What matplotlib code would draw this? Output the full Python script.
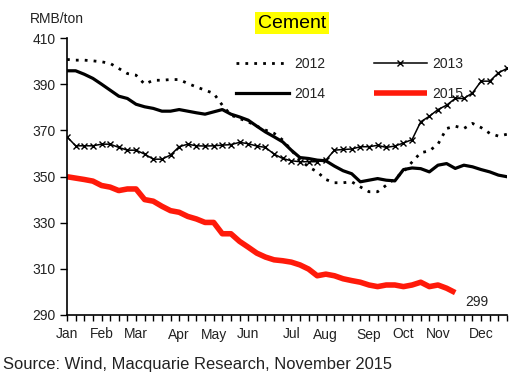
import matplotlib
matplotlib.use("Agg")
import matplotlib.pyplot as plt
import numpy as np

plt.rcParams['font.family'] = ['Liberation Sans', 'DejaVu Sans']

weeks = list(range(52))
month_labels = ['Jan', 'Feb', 'Mar', 'Apr', 'May', 'Jun', 'Jul', 'Aug', 'Sep', 'Oct', 'Nov', 'Dec']
month_weeks = [0, 4, 8, 13, 17, 21, 26, 30, 35, 39, 43, 48]

y2012 = [400.7, 400.4, 400.4, 400.1, 399.7, 399.0, 396.8, 394.6, 393.9, 390.0,
         391.7, 391.7, 392.0, 392.0, 390.3, 388.8, 387.4, 386.0, 380.9, 376.6,
         375.1, 373.7, 371.8, 370.1, 368.7, 365.8, 361.4, 357.1, 354.2, 352.0,
         348.7, 347.3, 347.3, 347.7, 345.5, 343.4, 343.4, 346.2, 349.1, 352.0,
         356.3, 360.3, 361.1, 364.0, 370.8, 371.8, 370.8, 373.0, 371.2, 368.7,
         367.5, 368.3]
y2013 = [367.2, 363.3, 363.3, 363.3, 364.0, 364.0, 362.6, 361.4, 361.4, 359.7,
         357.5, 357.5, 359.3, 362.9, 364.0, 363.3, 363.2, 363.3, 363.6, 363.8,
         364.8, 364.2, 363.2, 362.6, 359.7, 357.8, 356.8, 356.4, 356.4, 356.4,
         357.1, 361.4, 361.7, 361.9, 362.9, 362.9, 363.5, 362.6, 363.2, 364.5,
         366.0, 373.7, 376.1, 379.0, 380.9, 383.8, 383.8, 386.2, 391.3, 391.3,
         394.9, 396.8]
y2014 = [395.8, 395.8, 394.3, 392.5, 390.0, 387.4, 384.8, 383.8, 381.3, 380.2,
         379.5, 378.3, 378.3, 379.0, 378.3, 377.6, 377.0, 378.0, 379.0, 377.0,
         375.8, 374.4, 371.8, 369.3, 367.2, 365.0, 361.4, 358.2, 357.8, 357.1,
         356.8, 354.5, 352.5, 351.2, 347.7, 348.4, 349.1, 348.4, 348.1, 353.0,
         353.7, 353.4, 352.0, 354.9, 355.6, 353.5, 354.9, 354.2, 353.0, 352.0,
         350.6, 349.9]
y2015 = [349.9, 349.3, 348.7, 348.0, 346.1, 345.4, 343.9, 344.6, 344.6, 340.0,
         339.3, 337.1, 335.2, 334.5, 332.7, 331.6, 330.1, 330.1, 325.2, 325.2,
         321.9, 319.4, 316.8, 315.1, 313.9, 313.5, 312.9, 311.7, 309.9, 307.0,
         307.7, 307.0, 305.7, 304.9, 304.2, 303.0, 302.3, 303.0, 303.0, 302.3,
         303.0, 304.2, 302.3, 303.0, 301.6, 299.7]
last_label = '299'
yticks = [290, 310, 330, 350, 370, 390, 410]

W, H = 530, 374
fig = plt.figure(figsize=(W / 100, H / 100), dpi=100)
ax = fig.add_axes([67 / W, 1 - 315 / H, (507 - 67) / W, (315 - 38) / H])

ax.plot(weeks[:len(y2012)], y2012, color='black', lw=2.0, linestyle=(0, (1, 2.2)),
        label='2012')
ax.plot(weeks[:len(y2014)], y2014, color='black', lw=2.3, label='2014')
ax.plot(weeks[:len(y2013)], y2013, color='black', lw=1.1, marker='x', ms=5,
        mew=1.0, label='2013')
ax.plot(weeks[:len(y2015)], y2015, color='#ff1a0a', lw=4, label='2015',
        solid_capstyle='butt')

ax.text(len(y2015) - 1 + 1.2, 295.8, last_label, fontsize=10, ha='left',
        va='center', color='#222222')

ax.set_xlim(0, 51)
ax.set_ylim(290, 410)
ax.set_yticks(yticks)
ax.set_yticklabels([str(v) for v in yticks], fontsize=10, color='#222222')
ax.set_xticks(weeks, minor=True)
ax.set_xticks(month_weeks)
ax.set_xticklabels(month_labels, fontsize=10, color='#222222')
ax.tick_params(axis='x', which='both', direction='out', length=4, width=1,
               pad=5)
ax.tick_params(axis='y', direction='out', length=5, width=1, pad=3)
for s in ['top', 'right']:
    ax.spines[s].set_visible(False)
for s in ['left', 'bottom']:
    ax.spines[s].set_linewidth(1.2)

handles, labels = ax.get_legend_handles_labels()
order = [labels.index(l) for l in ['2012', '2014', '2013', '2015']]
leg = ax.legend([handles[i] for i in order], [labels[i] for i in order],
                ncol=2, frameon=False, fontsize=10, handlelength=3.8,
                handletextpad=0.4, columnspacing=3.5, labelspacing=1.15,
                borderpad=0, borderaxespad=0, loc='upper left',
                bbox_to_anchor=(236 / W, 1 - 57 / H),
                bbox_transform=fig.transFigure)
for t in leg.get_texts():
    t.set_color('#222222')

fig.text(30 / W, 1 - 19 / H, 'RMB/ton', fontsize=10, ha='left', va='center',
         color='#222222')
fig.text(292 / W, 1 - 23 / H, 'Cement', fontsize=14, ha='center', va='center',
         color='black',
         bbox=dict(boxstyle='square,pad=0.15', facecolor='#ffff00',
                   edgecolor='none'))
fig.text(3 / W, 1 - 365 / H, 'Source: Wind, Macquarie Research, November 2015',
         fontsize=11.9, ha='left', va='center', color='#222222')

fig.savefig('out.png', dpi=100)
